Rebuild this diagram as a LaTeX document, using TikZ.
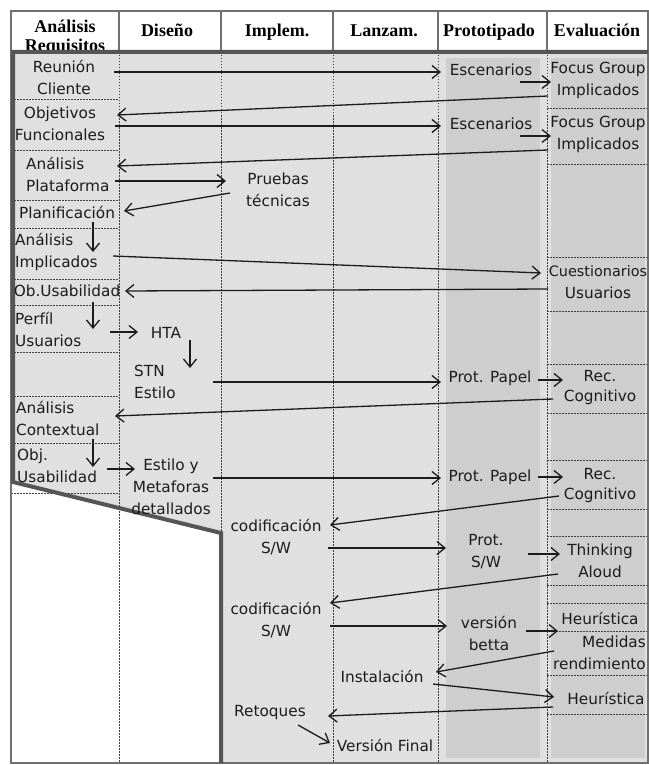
\documentclass[tikz,border=0pt]{standalone}
\usepackage{fontspec}
\usetikzlibrary{arrows.meta,calc}
\newfontfamily\bodyfont{DejaVu Sans}
\newfontfamily\headfont{Liberation Serif}
\definecolor{panel}{HTML}{E0E0E0}
\definecolor{band}{HTML}{CECECE}
\definecolor{edge}{HTML}{555555}
\definecolor{framegray}{HTML}{707070}
\definecolor{ink}{HTML}{1C1C1C}
\tikzset{
  lbl/.style={inner sep=0pt, text=ink, font=\bodyfont\fontsize{15.3}{22}\selectfont, align=center},
  lbll/.style={lbl, align=left, anchor=west},
  head/.style={inner sep=0pt, text=black, font=\headfont\bfseries\fontsize{18}{19}\selectfont, align=center},
  headone/.style={head, text height=12pt, text depth=4pt},
  arr/.style={draw=ink, line width=1.3pt, -{Straight Barb[length=8pt,width=13pt]}},
  sepline/.style={draw=ink!85, line width=1pt, dash pattern=on 1.5pt off 1.5pt},
}
\begin{document}
\begin{tikzpicture}[x=1pt,y=-1pt]
\useasboundingbox (0,0) rectangle (648,765);
\fill[white] (0,0) rectangle (648,765);

% shaded working area and darker column bands
\fill[panel] (13,52) -- (648,52) -- (648,763) -- (221,763) -- (221,533) -- (13,482) -- cycle;
\fill[band] (446,58) rectangle (540,758);
\fill[band] (551,58) rectangle (645,758);

% dotted column separators
\foreach \x in {119,333,438,547} \draw[sepline] (\x,52) -- (\x,763);
\draw[sepline] (221,52) -- (221,533);
% dotted row separators of the first column
\foreach \y in {100,150,200,228,279,305,352,396,443,493} \draw[sepline] (11,\y) -- (119,\y);
% dotted row separators of the last column
\foreach \y in {109,164,257,311,364,413,460,509,536,585,603,631,675,714} \draw[sepline] (547,\y) -- (648,\y);

% header row
\foreach \x in {119,221,333,438,547} \draw[framegray, line width=1.2pt] (\x,11) -- (\x,52);
\begin{scope}
  \clip (11,11) rectangle (648,51);
  \node[head] (hreq) at (65,38) {Análisis\\Requisitos};
  \node[headone] (hdis) at (167,33) {Diseño};
  \node[headone] (himp) at (277,33) {Implem.};
  \node[headone] (hlan) at (384,33) {Lanzam.};
  \node[headone] (hpro) at (489,33) {Prototipado};
  \node[headone] (heva) at (597,33) {Evaluación};
\end{scope}

% outer frame and thick outline of the active area
\draw[framegray, line width=1.5pt] (11,11) rectangle (648,763);
\draw[edge, line width=4pt, line join=miter] (648,52) -- (13,52) -- (13,482) -- (221,533) -- (221,763);

% first column
\node[lbl] (reu) at (64,77) {Reunión\\Cliente};
\node[lbl] (obj) at (60,124) {Objetivos\\Funcionales};
\node[lbll] (apl) at (26,174) {Análisis\\Plataforma};
\node[lbl] (pla) at (67,212) {Planificación};
\node[lbll] (aim) at (15,252) {Análisis\\Implicados};
\node[lbl] (obu) at (67,291) {Ob.Usabilidad};
\node[lbll] (per) at (15,329) {Perfíl\\Usuarios};
\node[lbll] (aco) at (16,418) {Análisis\\Contextual};
\node[lbll] (oju) at (17,466) {Obj.\\Usabilidad};

% middle columns
\node[lbl] (pru) at (278,190) {Pruebas\\técnicas};
\node[lbl] (hta) at (166,333) {HTA};
\node[lbll] (stn) at (134,382) {STN\\Estilo};
\node[lbl] (est) at (171,487) {Estilo y\\Metaforas\\detallados};
\node[lbl] (cod1) at (276,537) {codificación\\S/W};
\node[lbl] (cod2) at (276,620) {codificación\\S/W};
\node[lbl] (ret) at (270,713) {Retoques};
\node[lbl] (vfi) at (385,745) {Versión Final};
\node[lbl] (ins) at (382,676) {Instalación};

% prototyping column
\node[lbl] (esc1) at (491,70) {Escenarios};
\node[lbl] (esc2) at (491,124) {Escenarios};
\node[lbl] (pp1) at (490,378) {Prot. Papel};
\node[lbl] (pp2) at (490,477) {Prot. Papel};
\node[lbl] (psw) at (486,552) {Prot.\\S/W};
\node[lbl] (vbe) at (489,633) {versión\\betta};

% evaluation column
\node[lbl] (fg1) at (598,80) {Focus Group\\Implicados};
\node[lbl] (fg2) at (598,134) {Focus Group\\Implicados};
\node[lbl] (cue) at (598,282) {{\fontsize{14.4}{22}\selectfont Cuestionarios}\\Usuarios};
\node[lbl] (rc1) at (600,388) {Rec.\\[-2pt]Cognitivo};
\node[lbl] (rc2) at (600,486) {Rec.\\[-2pt]Cognitivo};
\node[lbl] (tal) at (600,561) {Thinking\\Aloud};
\node[lbl] (heu1) at (600,618) {Heurística};
\node[lbl, align=right, anchor=east] (med) at (646,653) {Medidas\\rendimiento};
\node[lbl] (heu2) at (606,698) {Heurística};

% flow
\draw[arr] ($(reu)+(50,-5)$) -- ($(esc1)+(-50,2)$);
\draw[arr] ($(esc1)+(29,12)$) -- ($(fg1)+(-47,2)$);
\draw[arr] ($(fg1)+(-50,16)$) -- ($(obj)+(57,-9)$);
\draw[arr] ($(obj)+(55,2)$) -- ($(esc2)+(-50,2)$);
\draw[arr] ($(esc2)+(29,12)$) -- ($(fg2)+(-47,2)$);
\draw[arr] ($(fg2)+(-50,16)$) -- ($(apl.west)+(91,-8)$);
\draw[arr] ($(apl.west)+(89,7)$) -- ($(pru)+(-52,-9)$);
\draw[arr] ($(pru)+(-48,3)$) -- ($(pla)+(57,-1)$);
\draw[arr] ($(pla)+(26,10)$) -- ($(aim.west)+(78,0)$);
\draw[arr] ($(aim.west)+(98,4)$) -- ($(cue)+(-57,-9)$);
\draw[arr] ($(cue)+(-50,7)$) -- ($(obu)+(58,0)$);
\draw[arr] ($(obu)+(26,11)$) -- ($(per.west)+(78,0)$);
\draw[arr] ($(per.west)+(95,3)$) -- ($(hta)+(-28,-1)$);
\draw[arr] ($(hta)+(24,7)$) -- ($(stn.west)+(56,-14)$);
\draw[arr] ($(stn.west)+(79,0)$) -- ($(pp1)+(-49,4)$);
\draw[arr] ($(pp1)+(48,2)$) -- ($(rc1)+(-37,-8)$);
\draw[arr] ($(rc1)+(-47,11)$) -- ($(aco.west)+(99,-2)$);
\draw[arr] ($(aco.west)+(77,21)$) -- ($(oju.west)+(76,1)$);
\draw[arr] ($(oju.west)+(90,3)$) -- ($(est)+(-36,-18)$);
\draw[arr] ($(est)+(42,-9)$) -- ($(pp2)+(-49,1)$);
\draw[arr] ($(pp2)+(48,0)$) -- ($(rc2)+(-37,-9)$);
\draw[arr] ($(rc2)+(-41,10)$) -- ($(cod1)+(54,-12)$);
\draw[arr] ($(cod1)+(52,11)$) -- ($(psw)+(-40,-4)$);
\draw[arr] ($(psw)+(42,2)$) -- ($(tal)+(-40,-7)$);
\draw[arr] ($(tal)+(-42,13)$) -- ($(cod2)+(54,-17)$);
\draw[arr] ($(cod2)+(54,6)$) -- ($(vbe)+(-42,-7)$);
\draw[arr] ($(vbe)+(37,-2)$) -- ($(heu1)+(-42,13)$);
\draw[arr] ($(med.east)+(-92,-2)$) -- ($(ins)+(54,-4)$);
\draw[arr] ($(ins)+(51,8)$) -- ($(heu2)+(-52,-1)$);
\draw[arr] ($(heu2)+(-53,9)$) -- ($(ret)+(58,3)$);
\draw[arr] ($(ret)+(28,12)$) -- ($(vfi)+(-55,-2)$);
\end{tikzpicture}
\end{document}
